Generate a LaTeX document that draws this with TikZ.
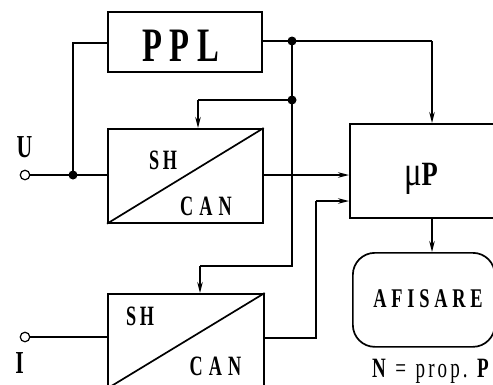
\documentclass[tikz,border=0pt]{standalone}
\usepackage{graphicx}
\usepackage{fontspec}
\setmainfont{Liberation Serif}
\newcommand{\cnx}[2][0.68]{\scalebox{#1}[1]{#2}}
\usetikzlibrary{arrows.meta}
\tikzset{
  blk/.style={draw, line width=1.7pt, inner sep=0pt, anchor=north west},
  wire/.style={line width=1.5pt},
  arr/.style={wire, -{Stealth[length=11pt,width=5.5pt]}},
  dot/.style={circle, fill, inner sep=0pt, minimum size=9pt},
  term/.style={circle, draw, line width=1.2pt, fill=white, inner sep=0pt, minimum size=9.5pt},
  lbl/.style={inner sep=0pt, anchor=base, font=\bfseries},
  shf/.style={lbl, font=\bfseries\fontsize{28}{28}\selectfont},
}
\begin{document}
\begin{tikzpicture}[x=1pt,y=-1pt]
\useasboundingbox (0,0) rectangle (493,384);
\begin{scope}
\clip (0,0) rectangle (493,384);
% blocks
\node[blk, minimum width=154, minimum height=60] (ppl) at (107,11) {};
\node[blk, minimum width=155, minimum height=94] (sh1) at (107,128) {};
\node[blk, minimum width=156, minimum height=94] (sh2) at (107,293) {};
\node[blk, minimum width=180, minimum height=94] (up) at (349,123) {};
\node[blk, rounded corners=22pt, minimum width=142, minimum height=94] (afis) at (352,252) {};
\draw[line width=1.7pt] (sh1.south west) -- (sh1.north east);
\draw[line width=1.7pt] (sh2.south west) -- (sh2.north east);
% labels
\node[lbl, font=\bfseries\fontsize{48}{48}\selectfont] (tppl) at (180.5,61.5) {\cnx{P\hspace{11pt}P\hspace{11pt}L}};
\node[shf] (tsh1) at (163,169.5) {\cnx[0.65]{S\hspace{5.7pt}H}};
\node[shf] (tcan1) at (206,215) {\cnx[0.65]{C\hspace{9.5pt}A\hspace{9.5pt}N}};
\node[shf] (tsh2) at (140,325) {\cnx[0.65]{S\hspace{5.7pt}H}};
\node[shf] (tcan2) at (215.5,375) {\cnx[0.65]{C\hspace{9.5pt}A\hspace{9.5pt}N}};
\node[lbl, font=\mdseries\fontsize{34}{34}\selectfont] (tup) at (421,185) {\cnx[0.78]{{\fontsize{42}{42}\selectfont μ}\textbf{P}}};
\node[lbl, font=\bfseries\fontsize{27}{27}\selectfont] (tafis) at (428,307) {\cnx{A\hspace{7pt}F\hspace{7pt}I\hspace{7pt}S\hspace{7pt}A\hspace{7pt}R\hspace{7pt}E}};
\node[lbl, anchor=base west, font=\mdseries\fontsize{28}{28}\selectfont] (tn) at (372,377) {\cnx{\textbf{N}\hspace{14pt}=\hspace{14pt}p\hspace{4.5pt}r\hspace{4.5pt}o\hspace{4.5pt}p\hspace{4.5pt}.\hspace{14pt}\textbf{P}}};
\node[lbl, font=\bfseries\fontsize{32}{32}\selectfont] (tu) at (24.5,157) {\cnx{U}};
\node[lbl, font=\bfseries\fontsize{32}{32}\selectfont] (ti) at (19.5,373) {\cnx{I}};
% coordinates
\coordinate (pplL) at (ppl.west |- 0,43);
\coordinate (k1) at (73,43);
\coordinate (ju) at (73,175);
\coordinate (sh1in) at (sh1.west |- 0,175);
\coordinate (sh2in) at (sh2.west |- 0,337);
\coordinate (jtop) at (292,41);
\coordinate (jmid) at (292,100);
\coordinate (k2) at (292,266);
\coordinate (k3) at (200,266);
\coordinate (k4) at (198,100);
\coordinate (k5) at (432,41);
\coordinate (sh1out) at (sh1.east |- 0,175);
\coordinate (sh2out) at (sh2.east |- 0,338);
\coordinate (k6) at (316,338);
\coordinate (k7) at (316,201);
% wires
\draw[wire] (ppl.east |- jtop) -- (jtop) -- (k5);
\draw[arr] (k5) -- (k5 |- up.north);
\draw[wire] (pplL) -- (k1) -- (ju);
\node[term] (inu) at (25,175) {};
\node[term] (ini) at (25,337) {};
\draw[wire] (inu) -- (ju) -- (sh1in);
\draw[wire] (ini) -- (sh2in);
\draw[wire] (jtop) -- (k2) -- (k3);
\draw[arr] (k3) -- (k3 |- sh2.north);
\draw[wire] (jmid) -- (k4);
\draw[arr] (k4) -- (k4 |- sh1.north);
\draw[arr] (sh1out) -- (up.west |- sh1out);
\draw[wire] (sh2out) -- (k6) -- (k7);
\draw[arr] (k7) -- (up.west |- k7);
\draw[arr] (up.south -| k5) -- (afis.north -| k5);
\node[dot] (d1) at (ju) {};
\node[dot] (d2) at (jtop) {};
\node[dot] (d3) at (jmid) {};
\end{scope}
\end{tikzpicture}
\end{document}
